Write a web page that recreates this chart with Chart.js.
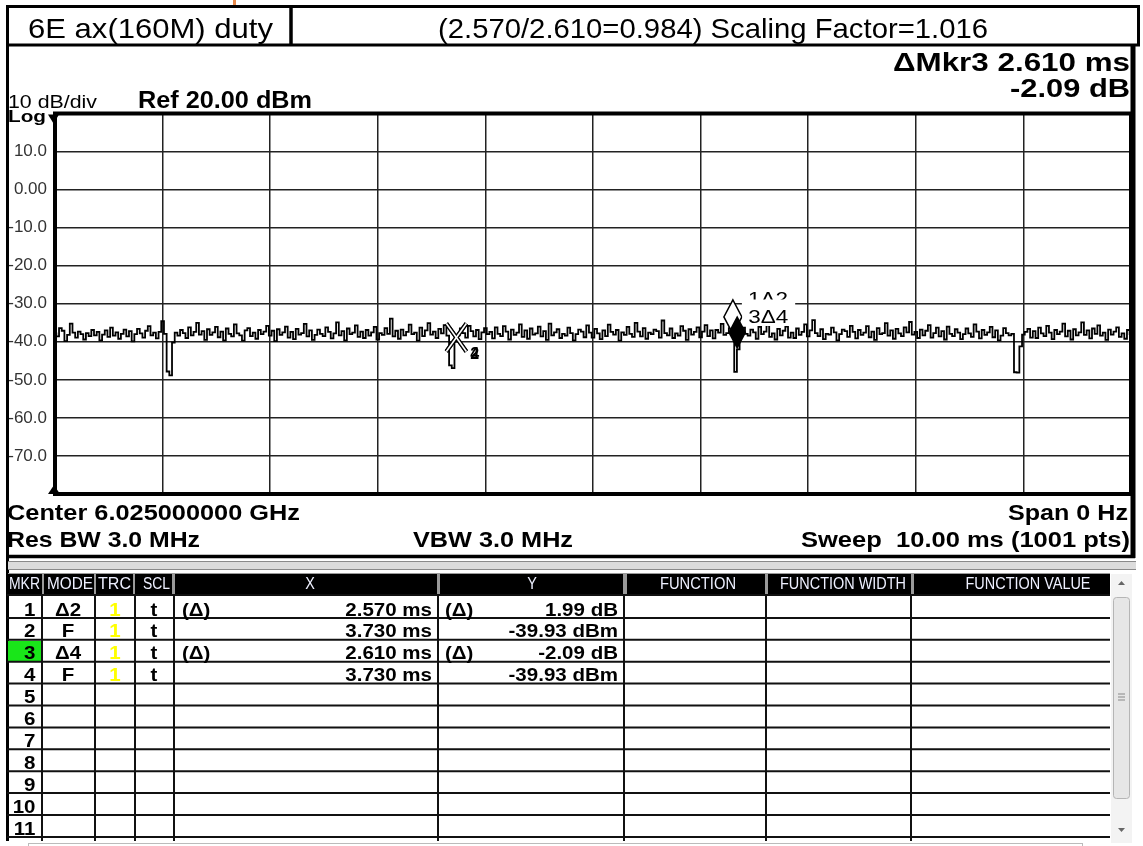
<!DOCTYPE html>
<html>
<head>
<meta charset="utf-8">
<script src="https://cdn.jsdelivr.net/npm/chart.js@4.4.1/dist/chart.umd.min.js"></script>
<style>
  html, body { margin: 0; padding: 0; background: #fff; }
  #sa { display: block; }
</style>
</head>
<body>
<canvas id="sa" width="1143" height="846"></canvas>
<script>
const FONT = '"Liberation Sans", Arial, sans-serif';

// --- Sweep / axis settings ---
const sweepMs = 10;
const refLevelDbm = 20;
const bottomDbm = -80;
const dbPerDiv = 10;

// --- Trace 1 (zero span, 0.025 ms per point) ---
const traceDbm = [
  -37.8,-38.6,-36.4,-37.1,-39.8,-38.2,-35.2,-37.6,-38.9,-37.3,-38.0,-39.4,-37.7,-38.5,-36.9,-38.3,-37.4,-39.6,-38.1,-37.0,
  -38.7,-36.3,-38.4,-37.5,-39.2,-37.9,-36.8,-38.6,-37.2,-39.9,-38.0,-36.6,-37.8,-38.9,-37.1,-35.9,-38.3,-37.6,-39.1,-37.4,
  -34.6,-37.9,-47.8,-48.8,-40.2,-37.6,-38.4,-36.9,-37.7,-39.0,-36.2,-38.3,-37.4,-35.0,-38.1,-37.2,-39.5,-36.7,-38.2,-37.5,
  -36.1,-38.8,-37.3,-39.6,-36.5,-37.9,-38.6,-35.4,-37.8,-38.3,-39.7,-37.0,-36.4,-38.5,-37.6,-39.2,-36.9,-38.0,-37.3,-35.8,
  -38.4,-37.1,-39.8,-36.7,-38.2,-37.5,-36.0,-38.9,-37.4,-39.3,-36.6,-38.1,-37.7,-35.3,-38.6,-37.0,-39.5,-38.2,-36.8,-37.9,
  -38.5,-36.2,-37.4,-39.1,-37.8,-34.9,-38.3,-37.2,-39.6,-36.5,-38.0,-37.6,-35.7,-38.7,-37.3,-39.0,-36.9,-38.4,-37.5,-36.1,
  -39.4,-37.7,-38.2,-36.4,-37.9,-33.9,-38.6,-37.1,-39.2,-36.8,-38.3,-37.4,-35.5,-38.0,-37.6,-39.7,-36.3,-38.5,-37.0,-35.1,
  -38.1,-37.3,-39.0,-36.6,-37.8,-35.6,-38.4,-46.2,-46.9,-39.93,-38.3,-36.5,-37.7,-38.9,-35.8,-37.2,-38.6,-36.9,-39.3,-37.5,
  -36.4,-38.0,-37.4,-39.1,-36.2,-37.9,-38.5,-35.9,-37.3,-39.4,-36.8,-38.2,-37.6,-35.4,-38.7,-37.0,-39.2,-36.5,-38.1,-37.8,
  -36.0,-38.6,-37.2,-39.5,-35.2,-38.3,-37.5,-36.7,-39.0,-37.9,-38.4,-36.3,-37.7,-39.6,-38.0,-36.8,-37.3,-38.8,-35.7,-37.6,
  -38.9,-36.6,-37.8,-39.3,-37.0,-38.5,-35.5,-37.4,-38.1,-36.9,-39.7,-37.5,-38.2,-36.1,-37.9,-38.7,-35.0,-37.3,-38.6,-36.4,
  -39.2,-37.6,-38.0,-36.8,-37.2,-38.9,-34.4,-37.7,-38.3,-36.5,-39.0,-37.8,-38.4,-35.9,-37.1,-39.5,-36.7,-38.1,-37.4,-36.2,
  -38.8,-37.3,-35.6,-38.5,-37.0,-39.1,-36.9,-37.6,-35.3,-38.2,-37.7,-36.4,-37.94,-47.9,-42.0,-38.6,-36.3,-37.9,-38.4,-36.8,
  -37.5,-39.2,-36.1,-38.0,-37.3,-35.7,-38.7,-37.8,-39.4,-36.6,-38.3,-37.1,-36.0,-38.9,-37.6,-39.0,-36.5,-38.2,-37.4,-35.4,
  -38.6,-37.0,-34.3,-37.7,-38.5,-36.7,-39.3,-37.9,-38.1,-36.3,-37.5,-39.6,-38.0,-36.8,-37.2,-38.7,-35.8,-37.4,-39.1,-36.9,
  -38.2,-37.6,-35.9,-38.8,-37.3,-39.5,-36.4,-38.0,-37.7,-35.1,-38.4,-37.0,-39.2,-36.6,-37.8,-38.5,-36.2,-37.5,-34.8,-38.1,
  -37.4,-39.0,-36.8,-38.3,-37.1,-35.6,-38.9,-37.7,-36.3,-38.6,-37.2,-39.4,-36.0,-37.9,-38.5,-36.7,-37.6,-39.3,-38.0,-36.5,
  -37.8,-38.7,-35.4,-37.3,-39.1,-36.9,-38.2,-37.5,-36.1,-38.8,-37.0,-39.6,-38.4,-36.4,-37.7,-38.3,-37.9,-48.0,-48.1,-41.2,
  -38.1,-37.4,-36.6,-38.9,-37.2,-39.0,-36.3,-37.8,-38.5,-35.8,-37.6,-39.3,-36.9,-38.0,-37.3,-35.2,-38.6,-37.1,-39.4,-36.7,
  -38.3,-37.5,-34.9,-38.2,-37.0,-39.1,-36.5,-37.9,-35.7,-38.4,-37.6,-39.5,-36.8,-38.1,-37.3,-36.2,-38.7,-37.8,-39.2,-36.9,
  -38.0
];

// --- Markers (from marker table) ---
const markerIds = ['1', '2', '3', '4'];
const markerTimeMs = [6.30, 3.73, 6.34, 3.73];
const markerDbm = [-37.94, -39.93, -42.02, -39.93];
const markerStyle = ['open', 'fixed', 'active', 'fixed'];
const markerLabels = ['1\u03942', '2', '3\u03944', '4'];

// --- Marker table text ---
const tableRows = ['1', '2', '3', '4', '5', '6', '7', '8', '9', '10', '11'];
const tableModes = ['\u03942', 'F', '\u03944', 'F'];
const tableTrc = ['1', '1', '1', '1'];
const tableScl = ['t', 't', 't', 't'];
const tableXPre = ['(\u0394)', '', '(\u0394)', ''];
const tableX = ['2.570 ms', '3.730 ms', '2.610 ms', '3.730 ms'];
const tableYPre = ['(\u0394)', '', '(\u0394)', ''];
const tableY = ['1.99 dB', '-39.93 dBm', '-2.09 dB', '-39.93 dBm'];
const activeRow = 2;

const tracePoints = traceDbm.map((v, i) => ({ x: i * sweepMs / (traceDbm.length - 1), y: v }));
const markerPoints = markerTimeMs.map((t, i) => ({ x: t, y: markerDbm[i] }));

// --- text helper (optionally squeezed to a target width) ---
function txt(ctx, s, x, y, o) {
    ctx.save();
    ctx.font = (o.bold ? 'bold ' : '') + o.size + 'px ' + FONT;
    ctx.fillStyle = o.color || '#000';
    ctx.textBaseline = 'alphabetic';
    ctx.textAlign = o.align || 'left';
    const w = ctx.measureText(s).width;
    const k = o.w ? o.w / w : (o.k || 1);
    ctx.translate(x, y);
    ctx.scale(k, 1);
    ctx.fillText(s, 0, 0);
    ctx.restore();
}

function line(ctx, x1, y1, x2, y2, w, c) {
    ctx.beginPath();
    ctx.moveTo(x1, y1);
    ctx.lineTo(x2, y2);
    ctx.lineWidth = w;
    ctx.strokeStyle = c || '#000';
    ctx.stroke();
}

const whiteBg = {
    id: 'whiteBg',
    beforeDraw(chart) {
        const ctx = chart.ctx;
        ctx.save();
        ctx.fillStyle = '#fff';
        ctx.fillRect(0, 0, chart.width, chart.height);
        ctx.restore();
    }
};

// --- markers drawn on top of the trace ---
const markerPlugin = {
    id: 'markers',
    afterDatasetsDraw(chart) {
        const ctx = chart.ctx;
        const xs = chart.scales.x, ys = chart.scales.y;
        const pos = markerPoints.map(p => [xs.getPixelForValue(p.x), ys.getPixelForValue(p.y)]);
        ctx.save();

        // fixed markers: hollow X
        markerStyle.forEach((st, i) => {
            if (st !== 'fixed') return;
            const [px, py] = pos[i];
            const c = py - 4;
            [[4, '#000'], [1.6, '#fff']].forEach(([w, col]) => {
                line(ctx, px - 10, c - 14, px + 10, c + 14, w, col);
                line(ctx, px + 10, c - 14, px - 10, c + 14, w, col);
            });
        });
        markerStyle.forEach((st, i) => {
            if (st !== 'fixed') return;
            const [px, py] = pos[i];
            txt(ctx, markerLabels[i], px + 14, py + 17, { size: 16, bold: true });
        });

        const diamond = (px, py) => {
            ctx.beginPath();
            ctx.moveTo(px, py);
            ctx.lineTo(px + 9, py - 17);
            ctx.lineTo(px, py - 34);
            ctx.lineTo(px - 9, py - 17);
            ctx.closePath();
        };
        // open (delta) marker
        markerStyle.forEach((st, i) => {
            if (st !== 'open') return;
            const [px, py] = pos[i];
            diamond(px, py);
            ctx.fillStyle = '#fff';
            ctx.fill();
            ctx.lineWidth = 1.5;
            ctx.strokeStyle = '#000';
            ctx.stroke();
            ctx.fillStyle = '#fff';
            ctx.fillRect(px + 9, py - 49, 53, 22);
            txt(ctx, markerLabels[i], px + 15, py - 29, { size: 19, w: 40 });
        });
        // active marker label + filled diamond
        markerStyle.forEach((st, i) => {
            if (st !== 'active') return;
            const [px, py] = pos[i];
            ctx.fillStyle = '#fff';
            ctx.fillRect(px + 5, py - 50, 53, 26.5);
            txt(ctx, markerLabels[i], px + 11, py - 26.5, { size: 19, w: 40 });
            diamond(px, py);
            ctx.fillStyle = '#000';
            ctx.fill();
        });
        ctx.restore();
    }
};

// --- screen furniture: header, annotations, frame, marker table ---
const screenPlugin = {
    id: 'screen',
    afterDraw(chart) {
        const ctx = chart.ctx;
        const a = chart.chartArea;
        ctx.save();

        // plot frame + corner arrows
        ctx.lineWidth = 4;
        ctx.strokeStyle = '#000';
        ctx.strokeRect(a.left, a.top, a.right - a.left, a.bottom - a.top);
        ctx.fillStyle = '#000';
        ctx.beginPath(); ctx.moveTo(48, a.top + 1); ctx.lineTo(59, a.top + 1); ctx.lineTo(53.5, a.top + 10); ctx.fill();
        ctx.beginPath(); ctx.moveTo(48, a.bottom); ctx.lineTo(60, a.bottom); ctx.lineTo(54, a.bottom - 9); ctx.fill();

        // title strip
        ctx.fillStyle = '#e8894a';
        ctx.fillRect(233, 0, 3, 5);
        ctx.lineWidth = 3;
        ctx.strokeStyle = '#000';
        ctx.strokeRect(7.5, 6.5, 1131, 38.5);
        line(ctx, 291, 6, 291, 45, 3.5);
        txt(ctx, '6E ax(160M) duty', 28, 38, { size: 28, w: 245 });
        txt(ctx, '(2.570/2.610=0.984) Scaling Factor=1.016', 438, 38, { size: 28, w: 550 });

        // panel borders
        line(ctx, 7.5, 45, 7.5, 841, 3);
        line(ctx, 1133, 45, 1133, 558, 5);
        line(ctx, 6, 556.5, 1135, 556.5, 3.5);

        // annotations
        txt(ctx, '\u0394Mkr3 2.610 ms', 1130, 71, { size: 25, bold: true, align: 'right', w: 237 });
        txt(ctx, '-2.09 dB', 1130, 97, { size: 25, bold: true, align: 'right', w: 120 });
        txt(ctx, '10 dB/div', 8, 108, { size: 18, w: 89 });
        txt(ctx, 'Ref 20.00 dBm', 138, 108, { size: 23, bold: true, w: 174 });
        txt(ctx, 'Log', 8, 122, { size: 17, bold: true, w: 38 });
        txt(ctx, 'Center 6.025000000 GHz', 7, 520, { size: 22, bold: true, w: 293 });
        txt(ctx, 'Res BW 3.0 MHz', 7, 547, { size: 22, bold: true, w: 193 });
        txt(ctx, 'VBW 3.0 MHz', 413, 547, { size: 22, bold: true, w: 160 });
        txt(ctx, 'Span 0 Hz', 1128, 520, { size: 22, bold: true, align: 'right', w: 120 });
        txt(ctx, 'Sweep  10.00 ms (1001 pts)', 1130, 547, { size: 22, bold: true, align: 'right', w: 329 });

        // separator band
        ctx.fillStyle = '#dcdcdc';
        ctx.fillRect(8, 561, 1128, 9);
        line(ctx, 8, 561.5, 1136, 561.5, 1, '#8a8a8a');
        line(ctx, 8, 569.5, 1136, 569.5, 1, '#8a8a8a');

        // table header
        const hdr = [
            [8, 42, 'MKR', 'l', 31], [44, 94, 'MODE', 'l', 46], [96, 133, 'TRC', 'l', 33], [135, 172, 'SCL', 'l', 27],
            [175, 437, 'X', 'c', 0], [440, 623, 'Y', 'c', 0], [627, 765, 'FUNCTION', 'c', 76],
            [768, 911, 'FUNCTION WIDTH', 'c', 126], [914, 1110, 'FUNCTION VALUE', 'c', 125]
        ];
        const hdrTextX = [9, 47, 98, 143, 310, 532, 698, 843, 1028];
        ctx.fillStyle = '#9a9a9a';
        ctx.fillRect(8, 573, 1102, 22);
        hdr.forEach(([x1, x2, s, al, w], i) => {
            ctx.fillStyle = '#000';
            ctx.fillRect(x1, 574, x2 - x1, 20);
            const o = { size: 16, color: '#eef0ff', align: al === 'c' ? 'center' : 'left' };
            if (w) o.w = w; else o.k = 0.9;
            txt(ctx, s, hdrTextX[i], 589, o);
        });

        // table body
        const rowTop = 596, rowH = 21.9;
        ctx.fillStyle = '#19e619';
        ctx.fillRect(8, rowTop + activeRow * rowH + 1, 34, rowH - 1);
        const colX = [42, 95, 135, 174, 438, 624, 766, 911];
        tableRows.forEach((n, r) => {
            const yb = rowTop + (r + 1) * rowH;
            line(ctx, 7, yb, 1110, yb, 2, '#111');
        });
        line(ctx, 7, rowTop - 1, 1110, rowTop - 1, 2, '#111');
        colX.forEach(x => line(ctx, x, rowTop - 1, x, 841, 2, '#111'));
        const R = { size: 19, bold: true, k: 1.08 };
        tableRows.forEach((n, r) => {
            const base = rowTop + r * rowH + 19.5;
            txt(ctx, n, 35.5, base, { ...R, align: 'right' });
            if (r >= tableModes.length) return;
            txt(ctx, tableModes[r], 68, base, { ...R, align: 'center' });
            txt(ctx, tableTrc[r], 115, base, { ...R, align: 'center', color: '#ffff00' });
            txt(ctx, tableScl[r], 154, base, { ...R, align: 'center' });
            if (tableXPre[r]) txt(ctx, tableXPre[r], 182, base, R);
            txt(ctx, tableX[r], 432, base, { ...R, align: 'right' });
            if (tableYPre[r]) txt(ctx, tableYPre[r], 445, base, R);
            txt(ctx, tableY[r], 618, base, { ...R, align: 'right' });
        });

        // scrollbar
        ctx.fillStyle = '#f3f3f3';
        ctx.fillRect(1111, 574, 21, 269);
        ctx.fillStyle = '#e6e6e6';
        ctx.strokeStyle = '#b5b5b5';
        ctx.lineWidth = 1;
        ctx.beginPath();
        ctx.roundRect(1113.5, 597.5, 16, 201, 3);
        ctx.fill();
        ctx.stroke();
        [-3, 0, 3].forEach(d => line(ctx, 1118, 697 + d, 1125, 697 + d, 1, '#888'));
        ctx.fillStyle = '#666';
        ctx.beginPath(); ctx.moveTo(1118, 585); ctx.lineTo(1125, 585); ctx.lineTo(1121.5, 581); ctx.fill();
        ctx.beginPath(); ctx.moveTo(1118, 828); ctx.lineTo(1125, 828); ctx.lineTo(1121.5, 832); ctx.fill();

        // bottom strip
        ctx.strokeStyle = '#bbbbbb';
        ctx.strokeRect(28.5, 843.5, 1054, 6);

        ctx.restore();
    }
};

new Chart(document.getElementById('sa'), {
    type: 'line',
    data: {
        datasets: [
            {
                data: tracePoints,
                borderColor: '#000',
                borderWidth: 1.8,
                pointRadius: 0,
                stepped: 'middle',
                fill: false
            },
            {
                data: markerPoints,
                showLine: false,
                pointRadius: 0
            }
        ]
    },
    options: {
        responsive: false,
        animation: false,
        devicePixelRatio: 1,
        events: [],
        layout: { padding: { left: 7, top: 113.5, right: 12, bottom: 352 } },
        plugins: { legend: { display: false }, tooltip: { enabled: false } },
        scales: {
            x: {
                type: 'linear',
                min: 0,
                max: sweepMs,
                ticks: { display: false, stepSize: 1 },
                grid: { color: '#222', lineWidth: 1.5, drawTicks: false },
                border: { display: false },
                afterFit: s => { s.height = 0; }
            },
            y: {
                min: bottomDbm,
                max: refLevelDbm,
                ticks: {
                    stepSize: dbPerDiv,
                    padding: 8,
                    color: '#333',
                    font: { family: FONT, size: 17 },
                    callback: v => (v === refLevelDbm || v === bottomDbm) ? '' : (v === 0 ? '0.00' : v.toFixed(1))
                },
                grid: { color: '#222', lineWidth: 1.5, drawTicks: false },
                border: { display: false },
                afterFit: s => { s.width = 48; }
            }
        }
    },
    plugins: [whiteBg, markerPlugin, screenPlugin]
});
</script>
</body>
</html>
